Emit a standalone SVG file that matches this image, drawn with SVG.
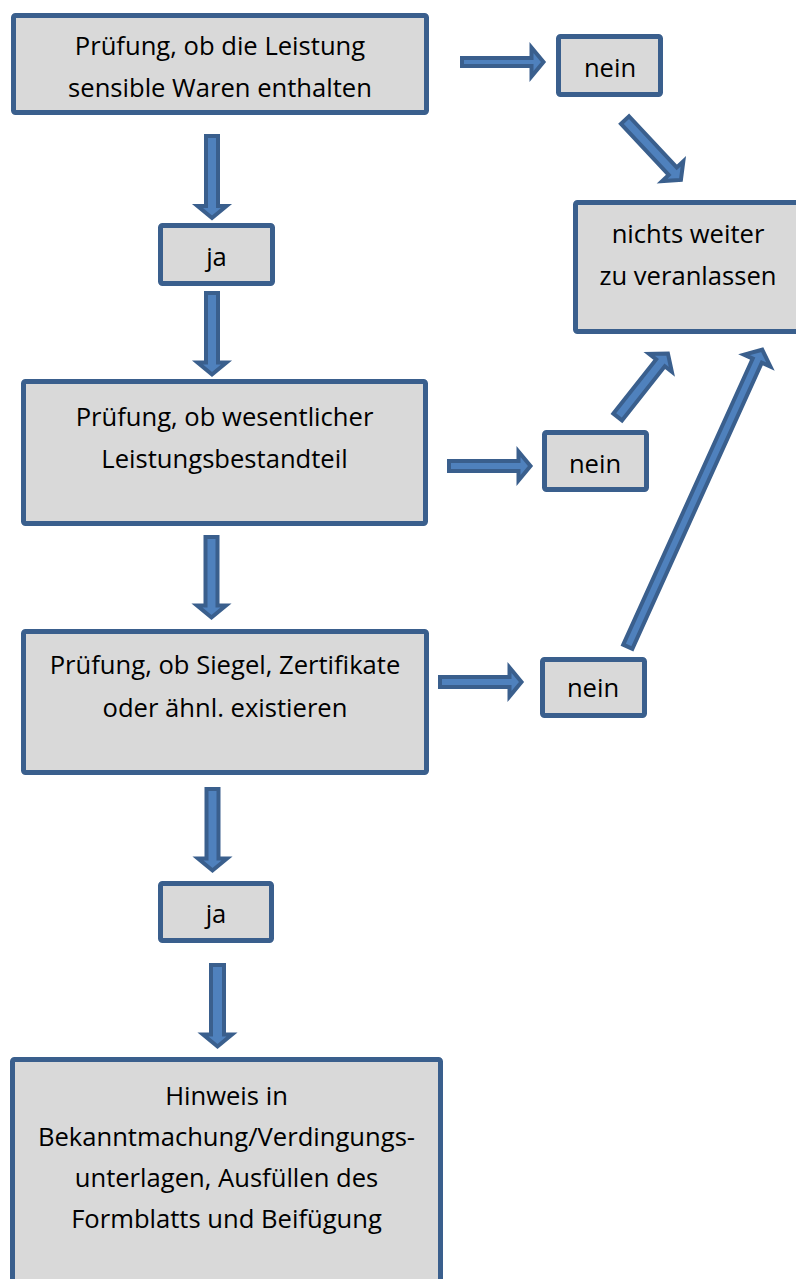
<svg xmlns="http://www.w3.org/2000/svg" width="796" height="1279" viewBox="0 0 796 1279">
<style>
.box{fill:#D9D9D9;stroke:#3A5F8D;stroke-width:5;stroke-linejoin:round}
.arr{fill:#4F81BD;stroke:#3A5F8D;stroke-width:4;stroke-linejoin:miter}
text{font-family:"Open Sans","Noto Sans","Liberation Sans",sans-serif;font-size:25.6px;fill:#000;text-anchor:middle}
</style>
<rect width="796" height="1279" fill="#fff"/>
<g id="connectors">
<polygon class="arr" transform="translate(212,136) rotate(90)" points="0,-6 70,-6 70,-14.5 82,0 70,14.5 70,6 0,6"/>
<polygon class="arr" transform="translate(212,293) rotate(90)" points="0,-6 69.5,-6 69.5,-14.5 81.5,0 69.5,14.5 69.5,6 0,6"/>
<polygon class="arr" transform="translate(211.5,537) rotate(90)" points="0,-6 68.5,-6 68.5,-14.5 80.5,0 68.5,14.5 68.5,6 0,6"/>
<polygon class="arr" transform="translate(212.5,789) rotate(90)" points="0,-6 69.5,-6 69.5,-14.5 81.5,0 69.5,14.5 69.5,6 0,6"/>
<polygon class="arr" transform="translate(217.5,965) rotate(90)" points="0,-6.5 69.5,-6.5 69.5,-14.5 81.5,0 69.5,14.5 69.5,6.5 0,6.5"/>
<polygon class="arr" transform="translate(462,62)" points="0,-4 69.5,-4 69.5,-14.5 81.5,0 69.5,14.5 69.5,4 0,4"/>
<polygon class="arr" transform="translate(449,466)" points="0,-5 69.5,-5 69.5,-14.5 81.5,0 69.5,14.5 69.5,5 0,5"/>
<polygon class="arr" transform="translate(440,682)" points="0,-5 69.5,-5 69.5,-14.5 81.5,0 69.5,14.5 69.5,5 0,5"/>
<polygon class="arr" transform="translate(625,120) rotate(47)" points="0,-5.5 70,-5.5 70,-14.5 82,0 70,14.5 70,5.5 0,5.5"/>
<polygon class="arr" transform="translate(617.7,417) rotate(-51.7)" points="0,-5.5 69,-5.5 69,-14.5 81,0 69,14.5 69,5.5 0,5.5"/>
<polygon class="arr" transform="translate(627.8,646.7) rotate(-65.65)" points="0,-5 314,-5 314,-14.5 326,0 314,14.5 314,5 0,5"/>
</g>
<g id="n1">
<rect class="box" x="13.5" y="15.5" width="413" height="97" rx="2"/>
<text x="220" y="55">Prüfung, ob die Leistung</text>
<text x="220" y="97">sensible Waren enthalten</text>
</g>
<g id="n2">
<rect class="box" x="160.5" y="225.5" width="112" height="58" rx="2"/>
<text x="216.5" y="266">ja</text>
</g>
<g id="n3">
<rect class="box" x="23.5" y="381.5" width="402" height="142" rx="2"/>
<text x="224.5" y="426">Prüfung, ob wesentlicher</text>
<text x="224.5" y="468">Leistungsbestandteil</text>
</g>
<g id="n4">
<rect class="box" x="23.5" y="631.5" width="403" height="141" rx="2"/>
<text x="225" y="674">Prüfung, ob Siegel, Zertifikate</text>
<text x="225" y="717">oder ähnl. existieren</text>
</g>
<g id="n5">
<rect class="box" x="160.5" y="883.5" width="111" height="57" rx="2"/>
<text x="216" y="923">ja</text>
</g>
<g id="n6">
<rect class="box" x="12.5" y="1059.5" width="428" height="250" rx="2"/>
<text x="226.5" y="1105">Hinweis in</text>
<text x="226.5" y="1146">Bekanntmachung/Verdingungs-</text>
<text x="226.5" y="1187">unterlagen, Ausfüllen des</text>
<text x="226.5" y="1228">Formblatts und Beifügung</text>
</g>
<g id="n7">
<rect class="box" x="558.5" y="36.5" width="102" height="58" rx="2"/>
<text x="610" y="77">nein</text>
</g>
<g id="n8">
<rect class="box" x="575.5" y="202.5" width="250" height="129" rx="2"/>
<text x="688" y="243">nichts weiter</text>
<text x="688" y="285">zu veranlassen</text>
</g>
<g id="n9">
<rect class="box" x="544.5" y="432.5" width="102" height="57" rx="2"/>
<text x="595" y="473">nein</text>
</g>
<g id="n10">
<rect class="box" x="542.5" y="659.5" width="102" height="56" rx="2"/>
<text x="593" y="697">nein</text>
</g>
</svg>
